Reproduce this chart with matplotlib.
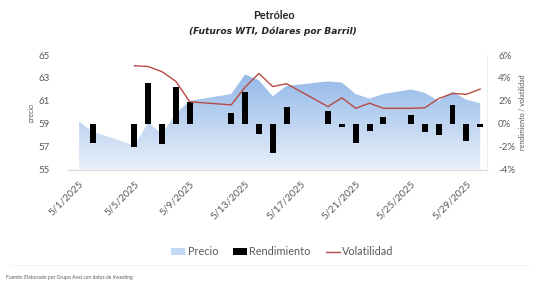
import numpy as np
import matplotlib.pyplot as plt
import matplotlib.dates as mdates
from matplotlib.ticker import FuncFormatter, MultipleLocator
from matplotlib.patches import Patch
from matplotlib.lines import Line2D
from matplotlib.colors import LinearSegmentedColormap

plt.rcParams['font.family'] = ['Lato', 'DejaVu Sans']

# -----------------------------
# Datos
# -----------------------------
fechas = ["2025-05-01", "2025-05-02", "2025-05-05", "2025-05-06", "2025-05-07", "2025-05-08",
          "2025-05-09", "2025-05-12", "2025-05-13", "2025-05-14", "2025-05-15", "2025-05-16",
          "2025-05-19", "2025-05-20", "2025-05-21", "2025-05-22", "2025-05-23", "2025-05-25",
          "2025-05-26", "2025-05-27", "2025-05-28", "2025-05-29", "2025-05-30"]
precio = [59.2, 58.3, 57.1, 59.1, 58.1, 59.9, 61.0, 61.6, 63.3, 62.8, 61.4, 62.3,
          62.7, 62.6, 61.6, 61.2, 61.6, 62.0, 61.7, 61.0, 61.8, 61.1, 60.8]
rendimiento = [np.nan, -1.66, -2.0, 3.53, -1.8, 3.23, 1.92, 0.91, 2.8, -0.93, -2.59, 1.43,
               1.14, -0.26, -1.66, -0.61, 0.61, 0.76, -0.70, -0.99, 1.63, -1.48, -0.26]
volatilidad = [np.nan, np.nan, 5.07, 5.0, 4.55, 3.7, 1.92, 1.65, 3.2, 4.4, 3.25, 3.5,
               1.5, 2.27, 1.35, 1.8, 1.35, 1.35, 1.4, 2.2, 2.65, 2.57, 3.03]
ticks_fechas = ["2025-05-01", "2025-05-05", "2025-05-09", "2025-05-13",
                "2025-05-17", "2025-05-21", "2025-05-25", "2025-05-29"]

x = mdates.datestr2num(fechas)
x_ticks = mdates.datestr2num(ticks_fechas)
gris = '#595959'
rojo = '#b84a44'

fig = plt.figure(figsize=(5.4, 2.84), dpi=100)
ax = fig.add_axes([0.126, 0.403, 0.776, 0.403])
ax2 = ax.twinx()

# -----------------------------
# Precio: area con degradado
# -----------------------------
poly = ax.fill_between(x, 55, precio, facecolor='none', edgecolor='none')
grad = np.linspace(1, 0, 256).reshape(-1, 1)
cmap = LinearSegmentedColormap.from_list('azul', ['#e9f0fa', '#8cb4e7'])
img = ax.imshow(grad, cmap=cmap, aspect='auto', origin='upper',
                extent=[x[0], x[-1], 55, 64], zorder=1)
img.set_clip_path(poly.get_paths()[0], transform=ax.transData)
ax.set_xlim(x[0] - 0.8, x[-1] + 0.5)
ax.set_ylim(55, 65)

# -----------------------------
# Rendimiento y volatilidad
# -----------------------------
ax2.bar(x, rendimiento, width=0.43, color='black', zorder=3)
ax2.plot(x, volatilidad, color=rojo, lw=1.0, zorder=4)
ax2.set_ylim(-4, 6)
ax2.yaxis.set_major_locator(MultipleLocator(2))
ax2.yaxis.set_major_formatter(FuncFormatter(lambda v, p: f"{v:.0f}%"))

ax.set_yticks([55, 57, 59, 61, 63, 65])
ax.set_xticks(x_ticks)
ax.xaxis.set_major_formatter(FuncFormatter(
    lambda v, p: f"{mdates.num2date(v).month}/{mdates.num2date(v).day}/{mdates.num2date(v).year}"))
for lab in ax.get_xticklabels():
    lab.set_rotation(45)
    lab.set_ha('right')
    lab.set_rotation_mode('anchor')

for a in (ax, ax2):
    for s in ('top', 'left', 'right'):
        a.spines[s].set_visible(False)
    a.spines['bottom'].set_color('#d9d9d9')
    a.tick_params(colors=gris, labelsize=7, length=0)
ax.tick_params(axis='x', labelsize=7.3)
ax2.spines['right'].set_visible(True)
ax2.spines['right'].set_color('#eeeeee')
ax.tick_params(axis='x', pad=7)
ax.tick_params(axis='y', pad=13)
ax2.tick_params(axis='y', pad=8)

ax.set_ylabel("precio", color=gris, fontsize=5, labelpad=3)
ax2.set_ylabel("rendimiento / volatilidad", color=gris, fontsize=5, labelpad=3)

# -----------------------------
# Titulos, leyenda y fuente
# -----------------------------
fig.text(0.508, 0.944, "Petróleo", ha='center', va='center', fontsize=7.8,
         fontweight='bold', color='#262626')
fig.text(0.506, 0.891, "(Futuros WTI, Dólares por Barril)", ha='center', va='center',
         fontsize=6.6, fontweight='bold', style='italic', color='#262626',
         family=['DejaVu Sans'])

handles = [Patch(facecolor='#c3d8f3', edgecolor='none'),
           Patch(facecolor='black', edgecolor='none'),
           Line2D([], [], color=rojo, lw=1.0)]
fig.legend(handles, ["Precio", "Rendimiento", "Volatilidad"], loc='center',
           bbox_to_anchor=(0.523, 0.113), ncol=3, frameon=False, fontsize=7.8,
           handlelength=1.3, handletextpad=0.2, columnspacing=1.4, labelcolor=gris)

fig.add_artist(Line2D([0.02, 0.98], [0.068, 0.068], color='#eeeeee', lw=0.6))
fig.text(0.012, 0.022, "Fuente: Elaborado por Grupo Aval con datos de Investing",
         fontsize=3.6, color=gris, ha='left', va='center')

fig.savefig("out.png", dpi=100, facecolor='white')
